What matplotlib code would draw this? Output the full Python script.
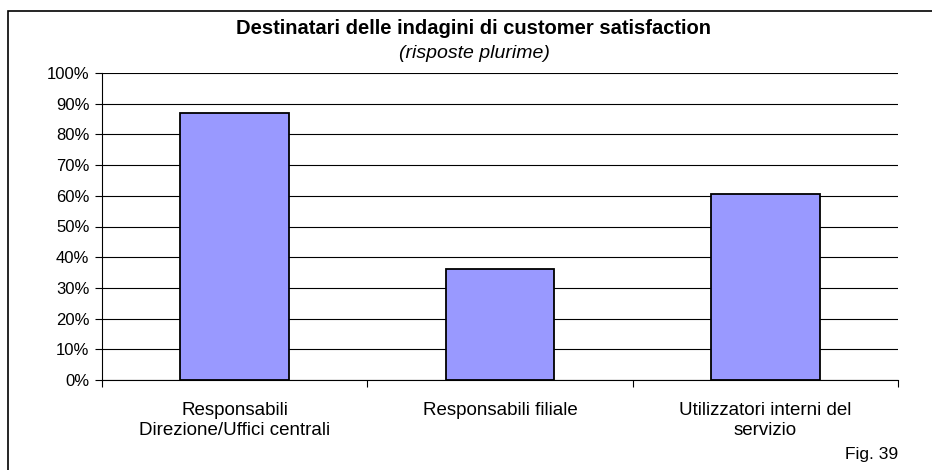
import matplotlib.pyplot as plt
from matplotlib.patches import Rectangle
from matplotlib.ticker import PercentFormatter

categories = ['Responsabili\nDirezione/Uffici centrali', 'Responsabili filiale',
              'Utilizzatori interni del\nservizio']
values = [87.0, 36.0, 60.7]
yticks = list(range(0, 101, 10))

plt.rcParams['font.family'] = ['Liberation Sans', 'DejaVu Sans']

fig = plt.figure(figsize=(9.32, 4.7), dpi=100)
ax = fig.add_axes([102 / 932, 1 - 380 / 470, 796 / 932, 307 / 470])

# frame around the chart (only top/left visible in the original)
fig.patches.append(Rectangle((8 / 932, -0.1), 1.2, 1 - 11 / 470 + 0.1,
                             transform=fig.transFigure, fill=False,
                             edgecolor='black', linewidth=1.2))

x = range(len(categories))
ax.bar(x, values, width=0.41, color='#9999FF', edgecolor='black',
       linewidth=1.3, zorder=3)

ax.set_xlim(-0.5, len(categories) - 0.5)
ax.set_ylim(0, 100)
ax.set_yticks(yticks)
ax.yaxis.set_major_formatter(PercentFormatter(decimals=0))
ax.yaxis.grid(True, color='black', linewidth=0.8, zorder=0)

ax.set_xticks([-0.5, 0.5, 1.5, 2.5])
ax.set_xticklabels([])
ax.set_xticks(list(x), minor=True)
ax.set_xticklabels(categories, minor=True, fontsize=13.5)
ax.tick_params(axis='x', which='minor', length=0, pad=16)
ax.tick_params(axis='x', which='major', length=5, width=0.8)
ax.tick_params(axis='y', length=5, width=0.8, labelsize=12, pad=4)

for s in ['top', 'right']:
    ax.spines[s].set_visible(False)
ax.spines['left'].set_linewidth(0.8)
ax.spines['bottom'].set_linewidth(0.8)

fig.text(474 / 932, 1 - 28 / 470, 'Destinatari delle indagini di customer satisfaction',
         ha='center', va='center', fontsize=14.5, fontweight='bold')
fig.text(474 / 932, 1 - 53 / 470, '(risposte plurime)', ha='center', va='center',
         fontsize=14, style='italic')
fig.text(898 / 932, 1 - 455 / 470, 'Fig. 39', ha='right', va='center', fontsize=12.5)

fig.savefig('out.png', dpi=100)
